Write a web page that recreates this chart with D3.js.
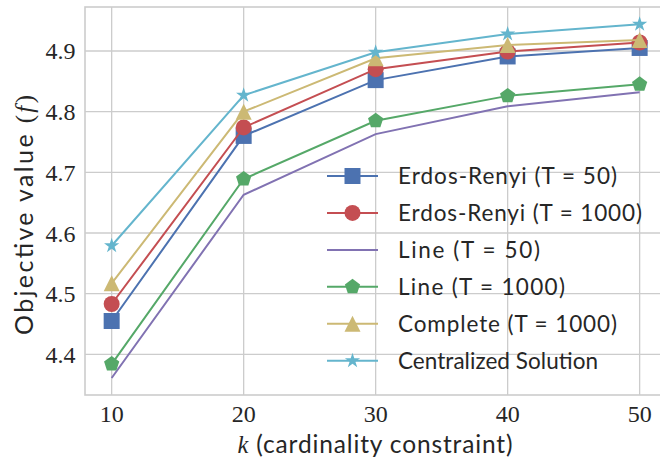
<!DOCTYPE html>
<html><head><meta charset="utf-8">
<script src="https://cdn.jsdelivr.net/npm/d3@7"></script>
<style>html,body{margin:0;padding:0;background:#fff;}svg{display:block;}
.serif{font-family:"Liberation Serif","DejaVu Serif",serif;}
.sans{font-family:"Lato","Open Sans",sans-serif;}
</style>
</head><body>
<script>
const kValues = [10, 20, 30, 40, 50];
const erdos50 = [4.455, 4.760, 4.852, 4.891, 4.905];
const erdos1000 = [4.483, 4.774, 4.870, 4.899, 4.914];
const line50 = [4.361, 4.663, 4.763, 4.809, 4.832];
const line1000 = [4.384, 4.689, 4.785, 4.826, 4.845];
const complete1000 = [4.517, 4.800, 4.888, 4.910, 4.918];
const centralized = [4.579, 4.827, 4.898, 4.928, 4.944];
const seriesNames = ["Erdos-Renyi (T = 50)", "Erdos-Renyi (T = 1000)", "Line (T = 50)", "Line (T = 1000)", "Complete (T = 1000)", "Centralized Solution"];
const xTicks = [10, 20, 30, 40, 50];
const yTicks = [4.4, 4.5, 4.6, 4.7, 4.8, 4.9];

const colors = ["#4C72B0", "#C44E52", "#8172B2", "#55A868", "#CCB974", "#64B5CD"];
const markers = ["square", "circle", "none", "pentagon", "triangle", "star"];
const seriesValues = [erdos50, erdos1000, line50, line1000, complete1000, centralized];
const legendWidths = [219, 244, 142, 167, 219, 200];

const W = 660, H = 459;
const L = 85, T = 7, B = 395, R = 666.3;
const svg = d3.select("body").append("svg").attr("width", W).attr("height", H);
const x = d3.scaleLinear().domain([7.98, 52.02]).range([L, R]);
const y = d3.scaleLinear().domain([4.333, 4.9725]).range([B, T]);

const gridColor = "#cccccc";
svg.append("g").selectAll("line").data(xTicks).join("line")
  .attr("x1", d => x(d)).attr("x2", d => x(d)).attr("y1", T).attr("y2", B)
  .attr("stroke", gridColor).attr("stroke-width", 1.3);
svg.append("g").selectAll("line").data(yTicks).join("line")
  .attr("x1", L).attr("x2", R).attr("y1", d => y(d)).attr("y2", d => y(d))
  .attr("stroke", gridColor).attr("stroke-width", 1.3);
svg.append("rect").attr("x", L).attr("y", T).attr("width", R - L).attr("height", B - T)
  .attr("fill", "none").attr("stroke", gridColor).attr("stroke-width", 1.6);

const textColor = "#262626";
svg.append("g").selectAll("text").data(xTicks).join("text")
  .attr("class", "serif")
  .attr("x", d => x(d)).attr("y", 422).attr("text-anchor", "middle")
  .attr("font-size", 24).attr("fill", textColor)
  .text(d => d);
svg.append("g").selectAll("text").data(yTicks).join("text")
  .attr("class", "serif")
  .attr("x", 75.5).attr("y", d => y(d) + 8.5).attr("text-anchor", "end")
  .attr("font-size", 24).attr("fill", textColor)
  .text(d => d.toFixed(1));

const xl = svg.append("text").attr("class", "sans").attr("x", 375).attr("y", 453).attr("text-anchor", "middle")
  .attr("font-size", 24.5).attr("fill", textColor)
  .attr("textLength", 275).attr("lengthAdjust", "spacing");
xl.append("tspan").attr("class", "serif").attr("font-style", "italic").text("k");
xl.append("tspan").text(" (cardinality constraint)");

const yl = svg.append("text").attr("class", "sans").attr("transform", "translate(33,215) rotate(-90)").attr("text-anchor", "middle")
  .attr("font-size", 25).attr("fill", textColor)
  .attr("textLength", 240).attr("lengthAdjust", "spacing");
yl.append("tspan").text("Objective value ");
yl.append("tspan").attr("class", "serif").text("(");
yl.append("tspan").attr("class", "serif").attr("font-style", "italic").text("f");
yl.append("tspan").attr("class", "serif").text(")");

function markerPath(type, s) {
  const r = s / 2;
  if (type === "square") return `M${-r},${-r}h${s}v${s}h${-s}Z`;
  if (type === "circle") return d3.symbol(d3.symbolCircle, Math.PI * r * r)();
  if (type === "triangle") return `M0,${-r}L${r},${r}L${-r},${r}Z`;
  if (type === "pentagon") {
    const pts = d3.range(5).map(i => { const a = -Math.PI / 2 + i * 2 * Math.PI / 5; return [r * Math.cos(a), r * Math.sin(a)]; });
    return "M" + pts.map(p => p.join(",")).join("L") + "Z";
  }
  if (type === "star") {
    const ri = r * 0.381966;
    const pts = d3.range(10).map(i => { const a = -Math.PI / 2 + i * Math.PI / 5; const rr = i % 2 ? ri : r; return [rr * Math.cos(a), rr * Math.sin(a)]; });
    return "M" + pts.map(p => p.join(",")).join("L") + "Z";
  }
  return null;
}
const mSize = 16;

const lineGen = d3.line().x((d, i) => x(kValues[i])).y(d => y(d));
seriesValues.forEach((vals, si) => {
  const g = svg.append("g");
  g.append("path").attr("d", lineGen(vals)).attr("fill", "none")
    .attr("stroke", colors[si]).attr("stroke-width", 2);
  const mp = markerPath(markers[si], mSize);
  if (mp) {
    g.selectAll("path.m").data(vals).join("path").attr("class", "m")
      .attr("d", mp).attr("transform", (d, i) => `translate(${x(kValues[i])},${y(d)})`)
      .attr("fill", colors[si]);
  }
});

const lg = svg.append("g");
const legY0 = 176, legDy = 36.95;
seriesNames.forEach((name, i) => {
  const yy = legY0 + i * legDy;
  lg.append("line").attr("x1", 327).attr("x2", 378).attr("y1", yy).attr("y2", yy)
    .attr("stroke", colors[i]).attr("stroke-width", 2);
  const mp = markerPath(markers[i], mSize);
  if (mp) lg.append("path").attr("d", mp).attr("transform", `translate(352.5,${yy})`).attr("fill", colors[i]);
  lg.append("text").attr("class", "sans").attr("x", 398).attr("y", yy + 8).attr("font-size", 22.5)
    .attr("fill", textColor).attr("textLength", legendWidths[i]).attr("lengthAdjust", "spacing").text(name);
});
</script>
</body></html>
